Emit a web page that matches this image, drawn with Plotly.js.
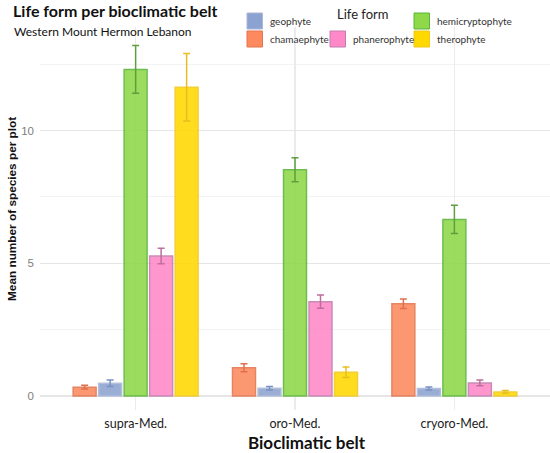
<!DOCTYPE html>
<html>
<head>
<meta charset="utf-8">
<script src="https://cdn.plot.ly/plotly-3.0.1.min.js"></script>
<style>html,body{margin:0;padding:0;background:#fff;}#chart{width:550px;height:453px;}</style>
</head>
<body>
<div id="chart"></div>
<script>
// ---- data ----
var belts = ["supra-Med.", "oro-Med.", "cryoro-Med."];
var lifeForms = ["chamaephyte", "geophyte", "hemicryptophyte", "phanerophyte", "therophyte"];
var chamaephyte     = [0.33, 1.06, 3.47];
var chamaephyteErr  = [0.07, 0.15, 0.18];
var geophyte        = [0.48, 0.29, 0.28];
var geophyteErr     = [0.12, 0.07, 0.06];
var hemicryptophyte = [12.3, 8.52, 6.65];
var hemicryptophyteErr = [0.9, 0.45, 0.53];
var phanerophyte    = [5.27, 3.55, 0.49];
var phanerophyteErr = [0.29, 0.25, 0.11];
var therophyte      = [11.63, 0.89, 0.15];
var therophyteErr   = [1.27, 0.2, 0.05];
var yTickVals = [0, 5, 10];
var yTickText = ["0", "5", "10"];

var values = [chamaephyte, geophyte, hemicryptophyte, phanerophyte, therophyte];
var errors = [chamaephyteErr, geophyteErr, hemicryptophyteErr, phanerophyteErr, therophyteErr];
var fills   = ["#FC8A5E", "#8CA2D0", "#8ED84A", "#FF88C8", "#FFD800"];
var lines   = ["#E4744C", "#A9B8D6", "#5BB53A", "#C27DAE", "#F2C81C"];
var errCols = ["#E0704C", "#7A90C4", "#5E9E3C", "#BE6E9E", "#E6BE22"];

var traces = lifeForms.map(function (name, i) {
  return {
    type: "bar",
    name: name,
    x: belts,
    y: values[i],
    marker: { color: fills[i], opacity: 0.88, line: { color: lines[i], width: 1.5 } },
    error_y: { type: "data", array: errors[i], visible: true, color: errCols[i], thickness: 1.5, width: 3.5 },
    showlegend: false,
    hoverinfo: "skip"
  };
});

// pixel -> paper helpers (plot area: x 40..550, y 27..410)
var L = 40, R = 550, T = 27, B = 410;
function px(x) { return (x - L) / (R - L); }
function py(y) { return (B - y) / (B - T); }

var textFont = "Lato, 'Open Sans', sans-serif";

// legend (custom layout: 3 columns, title in the middle column)
var legendOrder = [
  { name: "geophyte", col: 0, row: 0 },
  { name: "chamaephyte", col: 0, row: 1 },
  { name: "phanerophyte", col: 1, row: 1 },
  { name: "hemicryptophyte", col: 2, row: 0 },
  { name: "therophyte", col: 2, row: 1 }
];
var colX = [247, 330, 414];
var rowY = [13, 31];
var shapes = [];
var annotations = [];
legendOrder.forEach(function (it) {
  var idx = lifeForms.indexOf(it.name);
  var x0 = colX[it.col], y0 = rowY[it.row];
  shapes.push({
    type: "rect", xref: "paper", yref: "paper",
    x0: px(x0), x1: px(x0 + 15.5), y0: py(y0 + 16), y1: py(y0),
    fillcolor: fills[idx], line: { color: lines[idx], width: 1 }, layer: "above"
  });
  annotations.push({
    xref: "paper", yref: "paper", x: px(x0 + 21), y: py(y0 + 8),
    xanchor: "left", yanchor: "middle", showarrow: false,
    text: it.name, font: { family: textFont, size: 10, color: "#333333" }
  });
});
annotations.push({
  xref: "paper", yref: "paper", x: px(362), y: py(14),
  xanchor: "center", yanchor: "middle", showarrow: false,
  text: "Life form", font: { family: textFont, size: 13, color: "#222222" }
});
// subtitle
annotations.push({
  xref: "paper", yref: "paper", x: px(12), y: py(32),
  xanchor: "left", yanchor: "middle", showarrow: false,
  text: "Western Mount Hermon Lebanon", font: { family: textFont, size: 12, color: "#111111" }
});
// y-axis title
annotations.push({
  xref: "paper", yref: "paper", x: px(12), y: py(209),
  xanchor: "center", yanchor: "middle", showarrow: false, textangle: -90,
  text: "<b>Mean number of species per plot</b>",
  font: { family: "'Liberation Sans', Arial, sans-serif", size: 11.8, color: "#111111" }
});
// x-axis title
annotations.push({
  xref: "paper", yref: "paper", x: px(307), y: py(442),
  xanchor: "center", yanchor: "middle", showarrow: false,
  text: "<b>Bioclimatic belt</b>",
  font: { family: textFont, size: 17, color: "#111111" }
});

var layout = {
  width: 550, height: 453,
  margin: { l: L, r: 550 - R, t: T, b: 453 - B, pad: 0 },
  paper_bgcolor: "#ffffff", plot_bgcolor: "#ffffff",
  title: {
    text: "<b>Life form per bioclimatic belt</b>",
    x: 13 / 550, xanchor: "left", xref: "container",
    y: 1 - 11 / 453, yanchor: "middle", yref: "container",
    font: { family: textFont, size: 16, color: "#111111" }
  },
  barmode: "group", bargap: 0.2, bargroupgap: 0.1,
  xaxis: {
    type: "category", range: [-0.6, 2.6], fixedrange: true,
    showgrid: true, gridcolor: "#ebebeb", gridwidth: 1.2,
    zeroline: false, showline: false, ticks: "",
    tickfont: { family: textFont, size: 12.5, color: "#222222" },
    ticklabelstandoff: 4
  },
  yaxis: {
    range: [-0.53, 13.9], fixedrange: true,
    tickvals: yTickVals, ticktext: yTickText,
    showgrid: true, gridcolor: "#e6e6e6", gridwidth: 1.2,
    minor: { dtick: 2.5, tick0: 0, showgrid: true, gridcolor: "#f0f0f0", gridwidth: 0.8 },
    zeroline: false, showline: false, ticks: "",
    tickfont: { family: "'Liberation Sans', Arial, sans-serif", size: 11.5, color: "#808080" },
    ticklabelstandoff: 5
  },
  shapes: shapes,
  annotations: annotations
};

Plotly.newPlot("chart", traces, layout, { displayModeBar: false, staticPlot: true });
</script>
</body>
</html>
